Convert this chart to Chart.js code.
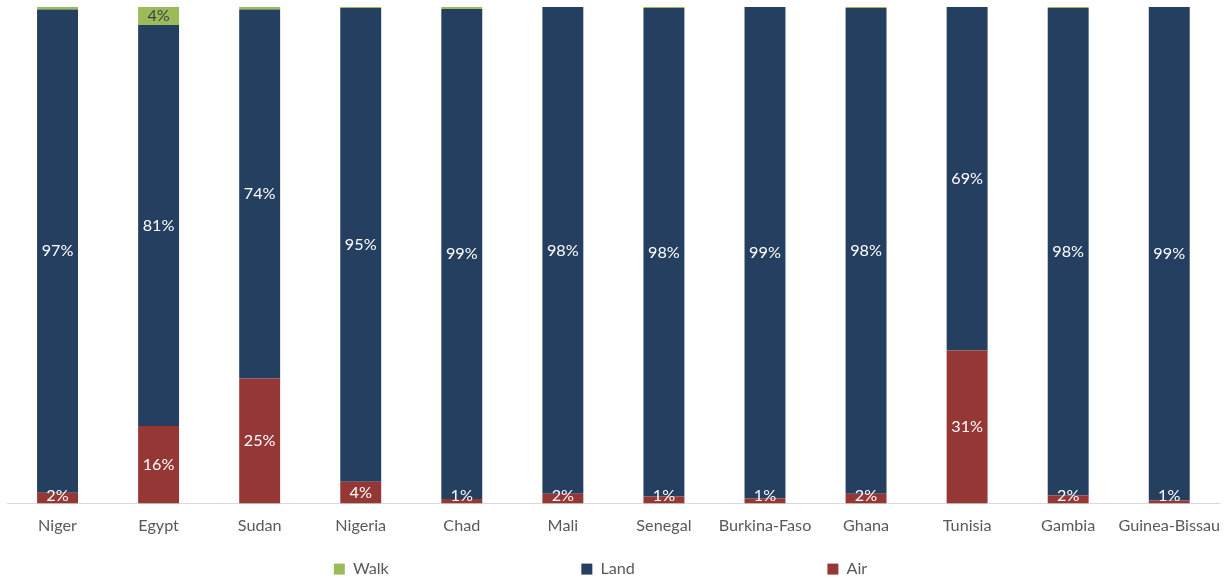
<!DOCTYPE html>
<html>
<head>
<meta charset="utf-8">
<script src="https://cdn.jsdelivr.net/npm/chart.js@4/dist/chart.umd.min.js"></script>
<style>
html,body{margin:0;padding:0;background:#fff;}
#wrap{width:1224px;height:581px;position:relative;}
</style>
</head>
<body>
<div id="wrap"><canvas id="c" width="1224" height="581"></canvas></div>
<script>
const categories = ["Niger","Egypt","Sudan","Nigeria","Chad","Mali","Senegal","Burkina-Faso","Ghana","Tunisia","Gambia","Guinea-Bissau"];
const airValues  = [2.2, 15.6, 25.2, 4.4, 0.9, 2.0, 1.4, 1.0, 2.0, 30.8, 1.6, 0.6];
const landValues = [97.3, 80.8, 74.3, 95.4, 98.7, 98.0, 98.4, 99.0, 97.8, 69.2, 98.2, 99.4];
const walkValues = [0.5, 3.6, 0.5, 0.2, 0.4, 0.0, 0.2, 0.0, 0.2, 0.0, 0.2, 0.0];

const FONT = "Lato, 'Open Sans', sans-serif";
const FS = 16.2;
const LEGEND_PAD = 192.5; // horizontal gap between legend items
const LEGEND_H = 42;      // reserved legend height
const LEGEND_OFF = 22;    // offset of legend row inside its box
const LEGEND_DX = -17;    // horizontal shift of the legend row

const labelPlugin = {
  id: 'segLabels',
  afterDatasetsDraw(chart) {
    const ctx = chart.ctx;
    ctx.save();
    ctx.font = FS + "px " + FONT;
    ctx.textAlign = 'center';
    ctx.textBaseline = 'middle';
    chart.data.datasets.forEach((ds, di) => {
      const meta = chart.getDatasetMeta(di);
      meta.data.forEach((bar, i) => {
        const v = ds.data[i];
        if (v < 0.5) return;
        if (ds.label === 'Walk' && v < 1) return;
        const p = bar.getProps(['x','y','base'], true);
        let cy = (p.y + p.base) / 2;
        if (Math.abs(p.base - p.y) < 14) cy = p.base - 8;
        ctx.fillStyle = ds.labelColor;
        ctx.fillText(Math.round(v) + '%', p.x, cy);
      });
    });
    ctx.restore();
  }
};

// keep the wide horizontal legend spacing without the matching vertical space
const legendFitPlugin = {
  id: 'legendFit',
  beforeLayout(chart) {
    const lg = chart.legend;
    if (lg && !lg._patched) {
      const origFit = lg.fit;
      lg.fit = function() { origFit.call(this); this.height = LEGEND_H; };
      const origDraw = lg._draw;
      lg._draw = function() {
        this.ctx.save();
        this.ctx.translate(LEGEND_DX, -(LEGEND_PAD - LEGEND_OFF));
        origDraw.call(this);
        this.ctx.restore();
      };
      lg._patched = true;
    }
  }
};

new Chart(document.getElementById('c'), {
  type: 'bar',
  data: {
    labels: categories,
    datasets: [
      {label: 'Air', data: airValues, backgroundColor: '#953735', labelColor: '#ffffff'},
      {label: 'Land', data: landValues, backgroundColor: '#253F60', labelColor: '#ffffff'},
      {label: 'Walk', data: walkValues, backgroundColor: '#9BBB59', labelColor: '#404040'}
    ]
  },
  options: {
    responsive: false,
    animation: false,
    layout: {padding: {top: 7, left: 7, right: -4, bottom: 0}},
    datasets: {bar: {barPercentage: 0.81, categoryPercentage: 0.5}},
    scales: {
      x: {
        stacked: true,
        grid: {display: false},
        border: {color: '#d9d9d9', width: 1},
        ticks: {color: '#595959', font: {family: FONT, size: FS}, padding: 4, maxRotation: 0, autoSkip: false}
      },
      y: {stacked: true, display: false, min: 0, max: 100}
    },
    plugins: {
      tooltip: {enabled: false},
      legend: {
        position: 'bottom',
        reverse: true,
        labels: {
          color: '#595959',
          font: {family: FONT, size: FS},
          boxWidth: 11, boxHeight: 11,
          padding: LEGEND_PAD
        }
      }
    }
  },
  plugins: [labelPlugin, legendFitPlugin]
});
</script>
</body>
</html>
